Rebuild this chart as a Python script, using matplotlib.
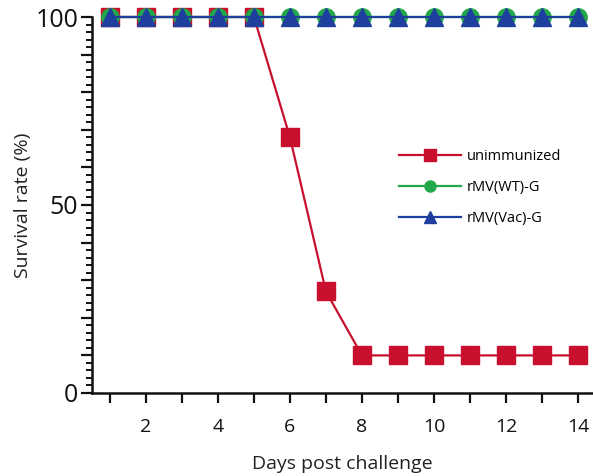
import numpy as np
import matplotlib
matplotlib.use("Agg")
import matplotlib.pyplot as plt
from matplotlib.lines import Line2D
from matplotlib.ticker import MultipleLocator, FixedLocator, FuncFormatter

# ----------------------------
# Data
# ----------------------------
days = [1, 2, 3, 4, 5, 6, 7, 8, 9, 10, 11, 12, 13, 14]
unimmunized = [100, 100, 100, 100, 100, 68, 27, 10, 10, 10, 10, 10, 10, 10]
rmv_wt_g = [100] * 14
rmv_vac_g = [100] * 14

series_names = ["unimmunized", "rMV(WT)-G", "rMV(Vac)-G"]
y_labels_shown = [0, 50, 100]
x_labels_shown = [2, 4, 6, 8, 10, 12, 14]

RED = "#c8102e"
GREEN = "#22a84a"
BLUE = "#1f3f9f"

plt.rcParams["font.family"] = ["Open Sans", "DejaVu Sans"]

fig = plt.figure(figsize=(5.93, 4.76), dpi=100)
ax = fig.add_axes([92 / 593, 83 / 476, 1 - 92 / 593, 376 / 476])

# draw order: red, then green, then blue on top
ax.plot(days, unimmunized, color=RED, lw=1.6, marker="s", ms=13,
        label=series_names[0], clip_on=False, zorder=3)
ax.plot(days, rmv_wt_g, color=GREEN, lw=1.6, marker="o", ms=12.5,
        label=series_names[1], clip_on=False, zorder=4)
ax.plot(days, rmv_vac_g, color=BLUE, lw=1.6, marker="^", ms=12.5,
        label=series_names[2], clip_on=False, zorder=5)

ax.set_xlim(0.5, 14.42)
ax.set_ylim(0, 100)

for s in ["top", "right"]:
    ax.spines[s].set_visible(False)
for s in ["left", "bottom"]:
    ax.spines[s].set_linewidth(1.8)
    ax.spines[s].set_color("#111111")

# y ticks: every 10 (labels at 0/50/100), minor every 2
ax.yaxis.set_major_locator(MultipleLocator(10))
ax.yaxis.set_minor_locator(MultipleLocator(2))
ax.yaxis.set_major_formatter(
    FuncFormatter(lambda v, p: f"{int(round(v))}" if int(round(v)) in y_labels_shown else ""))
ax.tick_params(axis="y", which="major", length=8, width=1.6, direction="out",
               labelsize=18, pad=2, colors="#111111")
ax.tick_params(axis="y", which="minor", length=4.5, width=1.4, direction="out",
               colors="#111111")

# x ticks: every day, labels on even days
ax.xaxis.set_major_locator(FixedLocator(days))
ax.xaxis.set_major_formatter(
    FuncFormatter(lambda v, p: f"{int(round(v))}" if int(round(v)) in x_labels_shown else ""))
ax.tick_params(axis="x", which="major", length=7, width=1.6, direction="out",
               labelsize=14, pad=11, colors="#111111")

ax.set_xlabel("Days post challenge", fontsize=14, labelpad=14, color="#222222")
ax.set_ylabel("Survival rate (%)", fontsize=14, labelpad=2, color="#222222")

# legend with smaller markers
handles = [
    Line2D([], [], color=RED, lw=1.6, marker="s", ms=8),
    Line2D([], [], color=GREEN, lw=1.6, marker="o", ms=8),
    Line2D([], [], color=BLUE, lw=1.6, marker="^", ms=8),
]
ax.legend(handles, series_names, loc="upper left", bbox_to_anchor=(0.602, 0.665),
          frameon=False, fontsize=10.5, handlelength=4.2, handletextpad=0.4,
          labelspacing=1.1, borderaxespad=0)

fig.savefig("out.png", dpi=100)
